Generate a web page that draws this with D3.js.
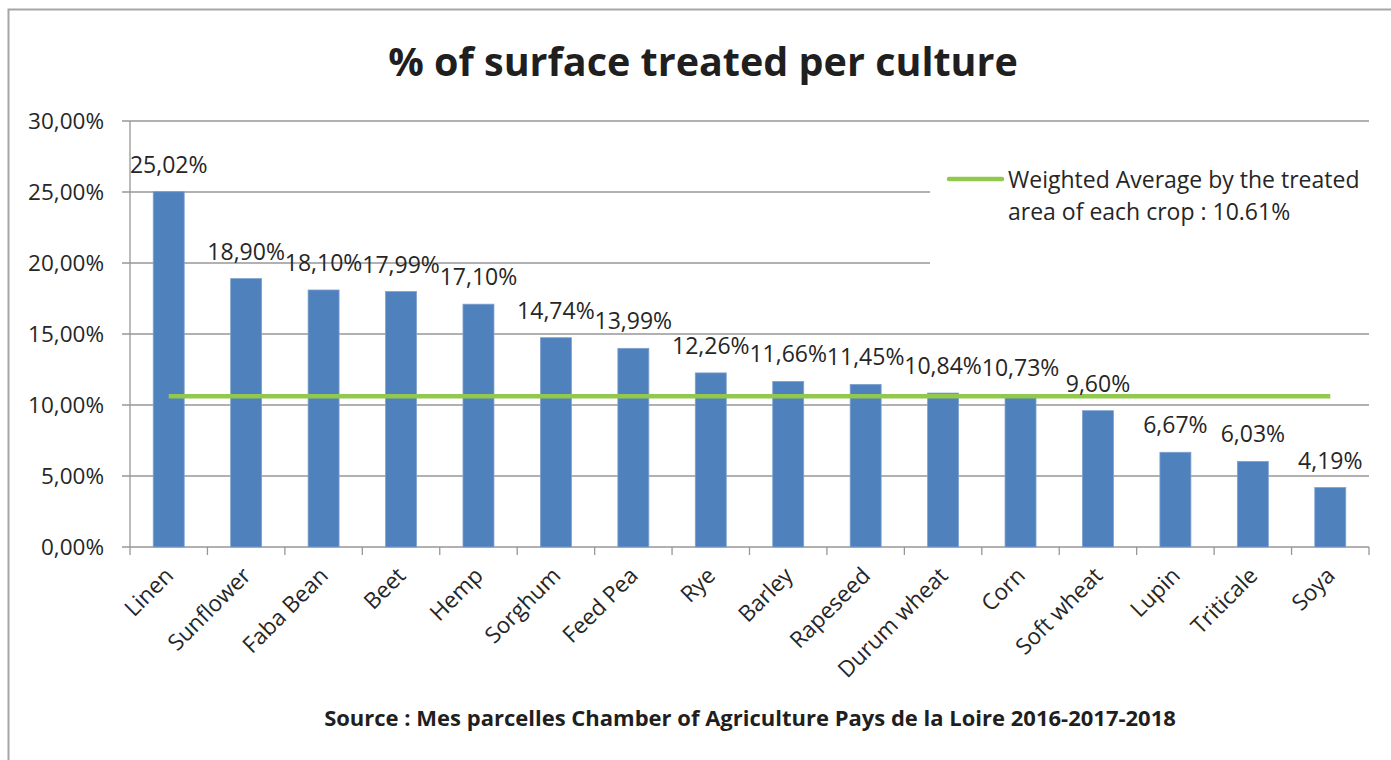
<!DOCTYPE html>
<html>
<head>
<meta charset="utf-8">
<script src="https://cdn.jsdelivr.net/npm/d3@7"></script>
<style>
  html, body { margin: 0; padding: 0; background: #fff; }
  svg { display: block; }
</style>
</head>
<body>
<svg id="chart" width="1391" height="760"></svg>
<script>
const categories = ["Linen","Sunflower","Faba Bean","Beet","Hemp","Sorghum","Feed Pea","Rye","Barley","Rapeseed","Durum wheat","Corn","Soft wheat","Lupin","Triticale","Soya"];
const values = [25.02, 18.90, 18.10, 17.99, 17.10, 14.74, 13.99, 12.26, 11.66, 11.45, 10.84, 10.73, 9.60, 6.67, 6.03, 4.19];
const yTicks = [0, 5, 10, 15, 20, 25, 30];
const average = 10.61;
const titleText = "% of surface treated per culture";
const legendLines = ["Weighted Average by the treated", "area of each crop : 10.61%"];
const sourceText = "Source : Mes parcelles Chamber of Agriculture Pays de la Loire 2016-2017-2018";

(function () {
const svg = d3.select("#chart");
const font = "'Open Sans', 'DejaVu Sans', sans-serif";
const fmt = v => v.toFixed(2).replace(".", ",") + "%";

const pLeft = 130, pRight = 1369, pTop = 121, pBottom = 547;

// frame
svg.append("rect").attr("x", 8.5).attr("y", 9.5).attr("width", 1420).attr("height", 800)
  .attr("fill", "#fff").attr("stroke", "#a6a6a6").attr("stroke-width", 2);

const x = d3.scaleBand().domain(categories).range([pLeft, pRight]).paddingInner(0.6).paddingOuter(0.3);
const xb = d3.scaleBand().domain(categories).range([pLeft, pRight]);
const y = d3.scaleLinear().domain([0, 30]).range([pBottom, pTop]);

// gridlines
svg.append("g").selectAll("line").data(yTicks).join("line")
  .attr("x1", pLeft - 8).attr("x2", pRight)
  .attr("y1", d => y(d)).attr("y2", d => y(d))
  .attr("stroke", "#979797").attr("stroke-width", 1.3);

// y axis line
svg.append("line").attr("x1", pLeft).attr("x2", pLeft).attr("y1", pTop).attr("y2", pBottom)
  .attr("stroke", "#979797").attr("stroke-width", 1.3);

// x ticks
svg.append("g").selectAll("line").data(categories.concat(["__end"])).join("line")
  .attr("x1", (d, i) => pLeft + i * xb.bandwidth()).attr("x2", (d, i) => pLeft + i * xb.bandwidth())
  .attr("y1", pBottom).attr("y2", pBottom + 8)
  .attr("stroke", "#979797").attr("stroke-width", 1.3);

// y labels
svg.append("g").selectAll("text").data(yTicks).join("text")
  .attr("x", 104).attr("y", d => y(d)).attr("dy", "0.35em")
  .attr("text-anchor", "end").attr("font-family", font).attr("font-size", 22.5)
  .attr("fill", "#262626").text(d => d.toFixed(2).replace(".", ",") + "%");

// bars
svg.append("g").selectAll("rect").data(values).join("rect")
  .attr("x", (d, i) => x(categories[i])).attr("width", x.bandwidth())
  .attr("y", d => y(d)).attr("height", d => pBottom - y(d))
  .attr("fill", "#4f81bd").attr("stroke", "#7fa1cf").attr("stroke-width", 0.8);

// average line
svg.append("line")
  .attr("x1", x(categories[0]) + x.bandwidth() / 2)
  .attr("x2", x(categories[categories.length - 1]) + x.bandwidth() / 2)
  .attr("y1", y(average)).attr("y2", y(average))
  .attr("stroke", "#92c84e").attr("stroke-width", 4.5);

// data labels
svg.append("g").selectAll("text").data(values).join("text")
  .attr("x", (d, i) => x(categories[i]) + x.bandwidth() / 2)
  .attr("y", d => y(d) - 19)
  .attr("text-anchor", "middle").attr("font-family", font).attr("font-size", 23)
  .attr("fill", "#262626").text(d => fmt(d));

// x labels
svg.append("g").selectAll("text").data(categories).join("text")
  .attr("transform", d => `translate(${x(d) + x.bandwidth() / 2 + 6},${pBottom + 30}) rotate(-45)`)
  .attr("text-anchor", "end").attr("font-family", font).attr("font-size", 22.5)
  .attr("fill", "#262626").text(d => d);

// legend
svg.append("rect").attr("x", 930).attr("y", 150).attr("width", 445).attr("height", 120).attr("fill", "#fff");
svg.append("line").attr("x1", 949).attr("x2", 1002).attr("y1", 179).attr("y2", 179)
  .attr("stroke", "#92c84e").attr("stroke-width", 4.5).attr("stroke-linecap", "round");
svg.append("g").selectAll("text").data(legendLines).join("text")
  .attr("x", 1008).attr("y", (d, i) => 188 + i * 32)
  .attr("font-family", font).attr("font-size", 23).attr("fill", "#262626").text(d => d);

// title
svg.append("text").attr("x", 703).attr("y", 76).attr("text-anchor", "middle")
  .attr("font-family", font).attr("font-weight", "bold").attr("font-size", 39.5)
  .attr("fill", "#1f1f1f").text(titleText);

// source
svg.append("text").attr("x", 750).attr("y", 726).attr("text-anchor", "middle")
  .attr("font-family", font).attr("font-weight", "bold").attr("font-size", 22)
  .attr("fill", "#1f1f1f").text(sourceText);
})();
</script>
</body>
</html>
